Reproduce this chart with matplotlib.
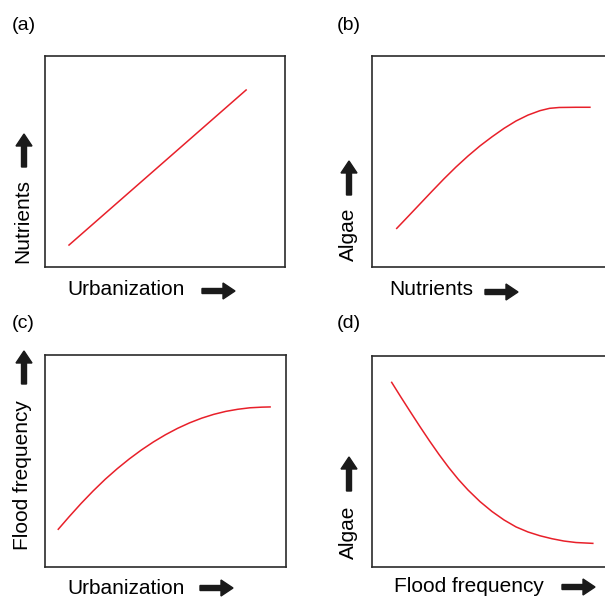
import matplotlib
matplotlib.use('Agg')
import matplotlib.pyplot as plt
from matplotlib.patches import FancyArrow
from matplotlib.transforms import IdentityTransform

plt.rcParams['font.family'] = ['Liberation Sans', 'DejaVu Sans']

W, H = 605, 599

# curves, in % of each panel's width / height
a_x = [10.0, 83.8]
a_y = [10.4, 83.9]

b_x = [10.3, 15, 20, 25, 30, 35, 40, 45, 50, 55, 60, 65, 70, 74, 78, 85, 90.8]
b_y = [18.3, 23.9, 29.9, 35.9, 41.8, 47.4, 52.6, 57.4, 61.7, 65.7, 69.2, 72.0, 74.1, 75.2, 75.6, 75.7, 75.7]

c_x = [5.5, 10, 15, 20, 25, 30, 35, 40, 45, 50, 55, 60, 65, 70, 75, 80, 85, 90, 93.4]
c_y = [17.8, 23.7, 30.0, 35.9, 41.4, 46.4, 51.0, 55.2, 59.0, 62.4, 65.4, 68.0, 70.2, 72.0, 73.4, 74.4, 75.1, 75.4, 75.5]

d_x = [8.2, 12, 16, 20, 24, 28, 32, 36, 40, 45, 50, 55, 60, 65, 70, 75, 80, 85, 92]
d_y = [87.5, 80.6, 73.5, 66.5, 59.7, 53.2, 47.1, 41.5, 36.5, 31.0, 26.3, 22.3, 19.0, 16.6, 14.8, 13.4, 12.3, 11.6, 11.2]

panel_tags = ['(a)', '(b)', '(c)', '(d)']
x_labels = ['Urbanization', 'Nutrients', 'Urbanization', 'Flood frequency']
y_labels = ['Nutrients', 'Algae', 'Flood frequency', 'Algae']
curves = [(a_x, a_y), (b_x, b_y), (c_x, c_y), (d_x, d_y)]

# layout in pixels (left, top, right, bottom) measured from top-left
boxes = [(45, 56, 285, 267), (372, 56, 612, 267),
         (45, 355, 286, 567), (372, 356, 612, 567)]
tag_pos = [(12, 26), (337, 26), (12, 324), (337, 324)]
xlab_pos = [(67, 289), (389, 289), (67, 589), (394, 587)]
xarrow = [(202, 235, 291), (485, 518, 292), (200, 233, 588), (562, 595, 587)]
ylab_pos = [(23, 221), (348, 234), (23, 475), (348, 532)]
yarrow = [(24, 167, 134), (349, 195, 161), (24, 384, 351), (349, 491, 457)]

fig = plt.figure(figsize=(W / 100, H / 100), dpi=100)


def fx(x):
    return x / W


def fy(y):
    return 1 - y / H


def arrow(x0, y0, x1, y1):
    fig.add_artist(FancyArrow(x0, H - y0, x1 - x0, -(y1 - y0), width=5,
                              head_width=16, head_length=12,
                              length_includes_head=True, color='#1a1a1a',
                              transform=IdentityTransform()))


for i in range(4):
    l, t, r, b = boxes[i]
    ax = fig.add_axes([fx(l), fy(b), (r - l) / W, (b - t) / H])
    ax.plot(curves[i][0], curves[i][1], color='#e8202a', lw=1.1)
    ax.set_xlim(0, 100)
    ax.set_ylim(0, 100)
    ax.set_xticks([])
    ax.set_yticks([])
    for s in ax.spines.values():
        s.set_color('#2b2b2b')
        s.set_linewidth(1.2)

    fig.text(fx(tag_pos[i][0]), fy(tag_pos[i][1]), panel_tags[i],
             fontsize=14, ha='left', va='center')
    fig.text(fx(xlab_pos[i][0]), fy(xlab_pos[i][1]), x_labels[i],
             fontsize=15, ha='left', va='center')
    fig.text(fx(ylab_pos[i][0]), fy(ylab_pos[i][1]), y_labels[i],
             fontsize=15, ha='center', va='center', rotation=90)

    x0, x1, y = xarrow[i]
    arrow(x0, y, x1, y)
    x, y0, y1 = yarrow[i]
    arrow(x, y0, x, y1)

fig.savefig('out.png', dpi=100)
